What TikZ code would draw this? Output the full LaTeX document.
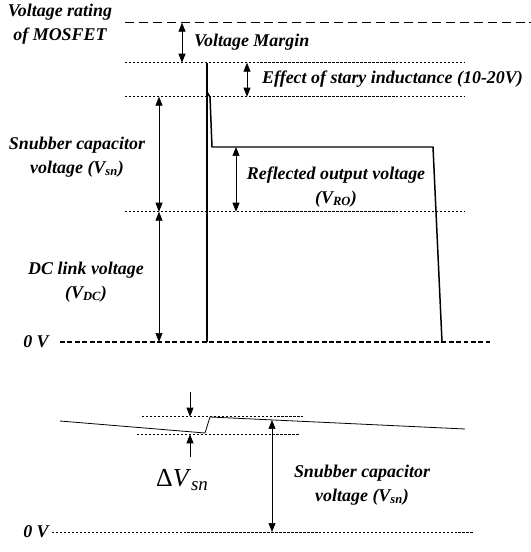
\documentclass[tikz,border=0pt]{standalone}
\usepackage{fontspec}
\setmainfont{Liberation Serif}
\usetikzlibrary{positioning,arrows.meta}

\begin{document}
\begin{tikzpicture}[x=1bp, y=-1bp,
  lbl/.style={font=\fontsize{18}{24}\selectfont\bfseries\itshape, align=center, inner sep=1pt},
  level/.style={line width=0.6pt, dash pattern=on 2.5pt off 1.5pt},
  rating/.style={line width=1pt, dash pattern=on 9pt off 5pt},
  zero/.style={line width=1.6pt, dash pattern=on 5pt off 2.5pt},
  dim/.style={{Triangle[length=9pt,width=7pt]}-{Triangle[length=9pt,width=7pt]}, line width=0.7pt},
  tick/.style={-{Triangle[length=9pt,width=7pt]}, line width=0.7pt},
  wave/.style={line width=1.5pt, line join=round}]
\useasboundingbox (0,0) rectangle (531,552);
% voltage levels
\coordinate (ratL) at (125,22.7);  \coordinate (ratR) at (531,22.7);
\coordinate (pkL)  at (125,62.7);  \coordinate (pkR)  at (465,62.7);
\coordinate (snL)  at (125,96.7);  \coordinate (snR)  at (465,96.7);
\coordinate (dcL)  at (125,211.7); \coordinate (dcR)  at (465,211.7);
\coordinate (zL)   at (60,342);    \coordinate (zR)   at (490,342);
\draw[rating] (ratL) -- (ratR);
\draw[level] (pkL) -- (pkR);
\draw[level] (snL) -- (snR);
\draw[level] (dcL) -- (dcR);
\draw[zero] (zL) -- (zR);
% drain voltage waveform
\draw[wave, line width=2.4pt] (207,62.7) -- (207,342);
\draw[wave] (207,92) -- (210,97) -- (212,147) -- (433,147) -- (442,342);
% dimension arrows
\draw[dim] (182,22.7) -- (182,62.7);
\draw[dim] (247,62.7) -- (247,96.7);
\draw[dim] (159,96.7) -- (159,211.7);
\draw[dim] (236,147) -- (236,211.7);
\draw[dim] (159,211.7) -- (159,342);
% labels
\node[lbl] (rating) at (60,24) {Voltage rating\\of MOSFET};
\node[lbl, anchor=west] (margin) at (193,42) {Voltage Margin};
\node[lbl, anchor=west] (stray) at (261,79) {Effect of stary inductance (10-20V)};
\node[lbl] (snub) at (77,157) {Snubber capacitor\\voltage (V\textsubscript{sn})};
\node[lbl] (refl) at (336,187) {Reflected output voltage\\(V\textsubscript{RO})};
\node[lbl] (dclink) at (86,282) {DC link voltage\\(V\textsubscript{DC})};
\node[lbl] (zeroA) at (36,342) {0 V};

% snubber capacitor ripple
\coordinate (hiL) at (142,416.7); \coordinate (hiR) at (303,416.7);
\coordinate (loL) at (137,434.3); \coordinate (loR) at (300,434.3);
\coordinate (zbL) at (52,532);    \coordinate (zbR) at (473,532);
\draw[level] (hiL) -- (hiR);
\draw[level] (loL) -- (loR);
\draw[level] (zbL) -- (zbR);
\draw[line width=0.8pt, line join=round] (60,421) -- (205,433) -- (210,417) -- (465,429);
\draw[tick] (190,392) -- (190,416.7);
\draw[tick] (190,457) -- (190,434.3);
\draw[dim] (272,420) -- (272,532);
\node[font=\fontsize{26}{28}\selectfont, inner sep=1pt] (dvsn) at (182,480)
  {Δ\textit{V}\raisebox{-0.35ex}{\fontsize{19}{20}\selectfont\textit{sn}}};
\node[lbl] (snubB) at (362,485) {Snubber capacitor\\voltage (V\textsubscript{sn})};
\node[lbl] (zeroB) at (36,532) {0 V};
\end{tikzpicture}
\end{document}
